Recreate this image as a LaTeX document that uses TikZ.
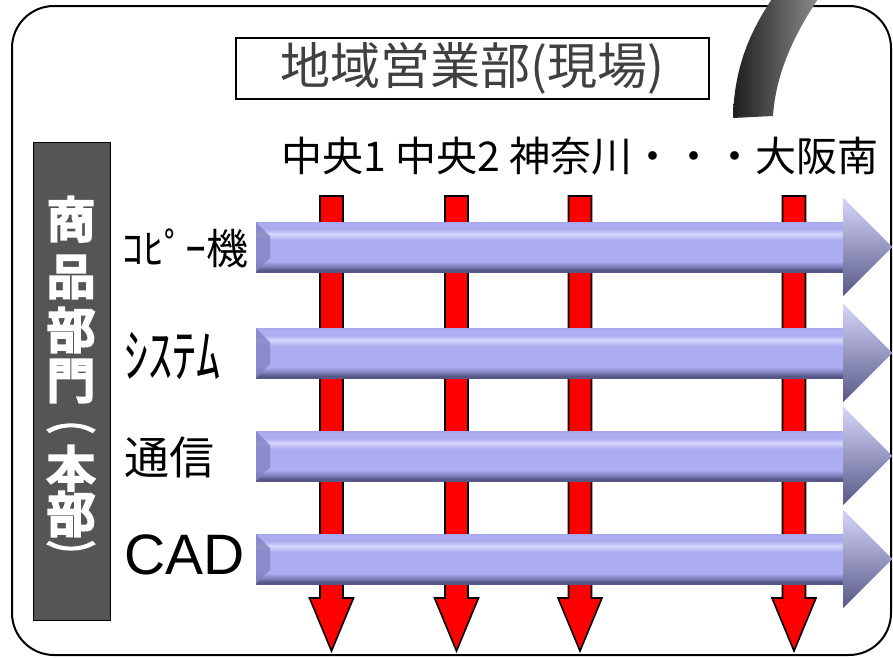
\documentclass[tikz,border=0pt]{standalone}
\usepackage{fontspec}
\newfontfamily\jp{Noto Sans CJK JP}
\newfontfamily\jpbold{Noto Sans CJK JP}[FakeBold=7]
\newfontfamily\lat{Liberation Sans}
\usetikzlibrary{calc}
\definecolor{bdk}{RGB}{88,88,135}
\definecolor{bmd}{RGB}{130,130,195}
\definecolor{bbase}{RGB}{172,172,240}
\definecolor{bhl}{RGB}{214,214,252}
\definecolor{btop}{RGB}{168,168,232}
\definecolor{barfill}{RGB}{85,85,85}
\definecolor{titlegray}{RGB}{64,64,64}
\pgfdeclareverticalshading{bluebevel}{100bp}{color(0bp)=(bdk); color(25bp)=(bdk); color(27bp)=(bdk); color(31bp)=(bmd); color(36bp)=(bbase); color(57bp)=(bbase); color(63bp)=(bhl); color(68bp)=(bbase); color(73bp)=(bbase); color(75bp)=(btop); color(100bp)=(btop)}
\tikzset{
  frame/.style={draw=black, line width=2pt, rounded corners=42pt},
  redarrow/.style={draw=black, fill=red, line width=1.6pt, line join=miter},
  bluebase/.style={fill=bbase},
  rowlabel/.style={anchor=west, inner sep=0pt, font=\jp\fontsize{42}{46}\selectfont},
  barchar/.style={text=white, inner sep=0pt, font=\jpbold\fontsize{48}{52}\selectfont},
  barparen/.style={text=white, inner sep=0pt, font=\jpbold\fontsize{28}{30}\selectfont},
}
\begin{document}
\begin{tikzpicture}[x=1pt,y=-1pt]
\useasboundingbox (0,0) rectangle (893,657);
% outer frame
\draw[frame] (12,6) rectangle (891,655);
% title
\node[draw=black, line width=1.5pt, minimum width=473pt, minimum height=61pt, inner sep=0pt,
      text=titlegray, font=\jp\fontsize{50}{54}\selectfont] (title) at (472.5,68.5) {地域営業部(現場)};
% curved band
\shade[left color=black!88, right color=black!45, shading angle=90]
  (733,118) .. controls (734,65) and (752,28) .. (774,-4)
  -- (820,-4) .. controls (797,30) and (776,70) .. (773,116) -- cycle;
% column header
\node[font=\jp\fontsize{41}{44}\selectfont, inner sep=0pt] (cols) at (580,156) {中央1 中央2 神奈川・・・大阪南};
% left bar
\node[draw=black, line width=1pt, fill=barfill, minimum width=77pt, minimum height=478pt, inner sep=0pt] (bar) at (71.5,381) {};
\node[barchar] (c1) at (71,219) {商};
\node[barchar] (c2) at (71,277) {品};
\node[barchar] (c3) at (71,330) {部};
\node[barchar] (c4) at (71,381) {門};
\node[barparen] (c5) at (71,428) {\scalebox{1.7}[1]{︵}};
\node[barchar] (c6) at (71,468) {本};
\node[barchar] (c7) at (71,514) {部};
\node[barparen] (c8) at (71,554) {\scalebox{1.7}[1]{︶}};
% red arrows
\foreach \x in {331.5,456.5,580,794}{
  \draw[redarrow] ({\x-11.5},196) -- ({\x+11.5},196) -- ({\x+11.5},598) -- ({\x+22},598)
     -- (\x,651) -- ({\x-22},598) -- ({\x-11.5},598) -- cycle;
}
% blue arrows
\foreach \y in {247,353,456,559}{
  \fill[bluebase] (256,{\y-25}) -- (843,{\y-25}) -- (843,{\y-49}) -- (892,\y) -- (843,{\y+49}) -- (843,{\y+25}) -- (256,{\y+25}) -- cycle;
  \shade[shading=bluebevel] (256,{\y-25}) rectangle (843,{\y+25});
  \shade[top color=bhl, middle color=bbase, bottom color=bdk] (843,{\y-49}) -- (892,\y) -- (843,{\y+49}) -- cycle;
  \fill[bmd, opacity=0.8] (256,{\y-25}) -- (270,{\y-11}) -- (270,{\y+11}) -- (256,{\y+25}) -- cycle;
}
% row labels
\node[rowlabel] (r1) at (122,248) {ｺﾋﾟｰ機};
\node[rowlabel] (r2) at (124,356) {\scalebox{1.15}[1.4]{ｼｽﾃﾑ}};
\node[rowlabel, font=\jp\fontsize{45}{48}\selectfont] (r3) at (124,457) {通信};
\node[rowlabel, font=\lat\fontsize{57}{60}\selectfont] (r4) at (124,555) {CAD};
\end{tikzpicture}
\end{document}
